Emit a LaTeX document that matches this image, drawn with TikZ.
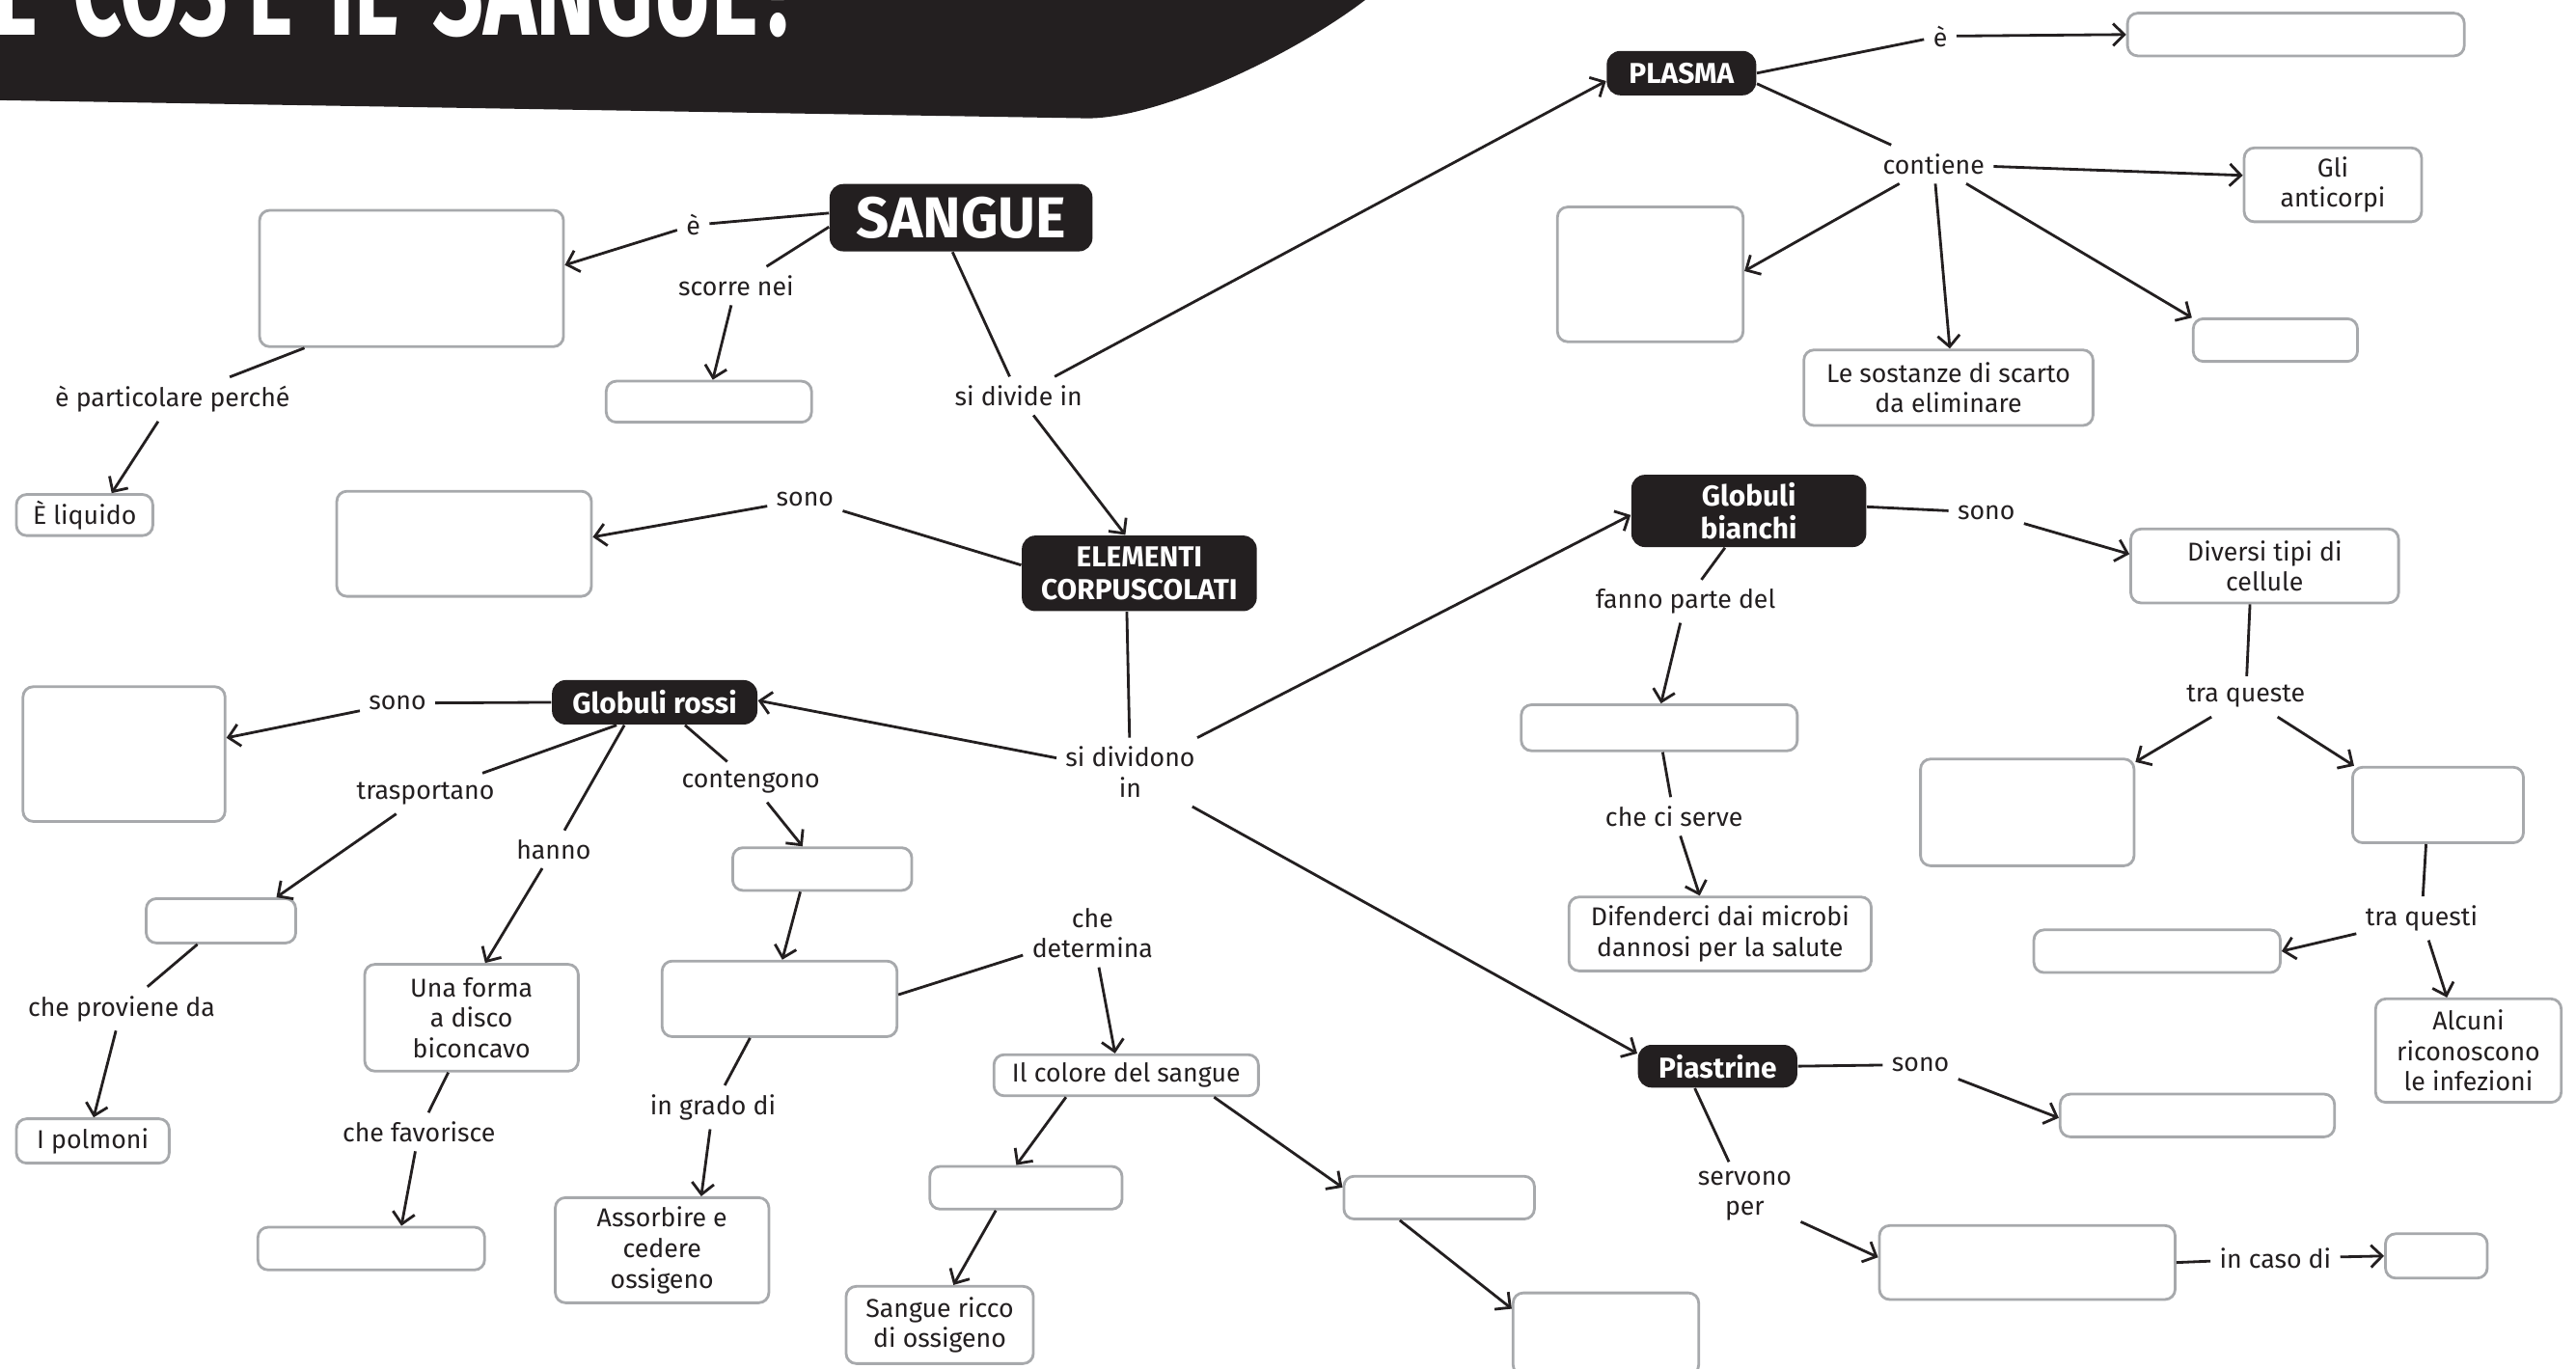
\documentclass[tikz,border=0pt]{standalone}
\usepackage{fontspec}
\setmainfont{Fira Sans}
\usetikzlibrary{arrows.meta}
\definecolor{ink}{HTML}{231F20}
\definecolor{boxgray}{HTML}{A7A9AC}
\begin{document}
\begin{tikzpicture}[x=0.017028cm,y=-0.017028cm,
  dk/.style 2 args={fill=ink, text=white, font=\bfseries\fontsize{8.5}{9.6}\selectfont, rounded corners=4pt, inner sep=0pt, align=center, minimum width=#1*0.017028cm, minimum height=#2*0.017028cm},
  wb/.style 2 args={draw=boxgray, line width=0.8pt, fill=white, rounded corners=3pt, minimum width=#1*0.017028cm, minimum height=#2*0.017028cm, inner sep=0pt, align=center, text=ink, font=\fontsize{7.6}{9}\selectfont},
  lb/.style={text=ink, font=\fontsize{7.6}{9}\selectfont, inner sep=2.5pt, align=center},
  ln/.style={draw=ink, line width=0.8pt},
  ar/.style={ln, -{Straight Barb[length=3.3pt,width=6.5pt]}},
  ttl/.style={anchor=base west, inner sep=0pt, text=white, font=\bfseries\fontsize{40}{40}\selectfont},
]
\useasboundingbox (0,0) rectangle (1568,833.3);
\clip (0,0) rectangle (1568,833.3);
% banner
\fill[ink] (0,0) -- (831,0) .. controls (785,35) and (705,72) .. (662,72) -- (0,61) -- cycle;
\node[ttl] (t1) at (-4,21.5) {\scalebox{0.62}[1]{E}};
\node[ttl] (t2) at (44,21.5) {\scalebox{0.63}[1]{COS’È}};
\node[ttl] (t3) at (200,21.5) {\scalebox{0.63}[1]{IL}};
\node[ttl] (t4) at (263,21.5) {\scalebox{0.66}[1]{SANGUE?}};

% dark nodes
\node[dk={160}{41}, font=\bfseries\fontsize{17}{18}\selectfont] (sangue) at (585,132.5) {SANGUE};
\node[dk={91}{27}] (plasma) at (1023.5,44.5) {PLASMA};
\node[dk={143}{46}] (elem) at (693.5,349) {ELEMENTI\\CORPUSCOLATI};
\node[dk={125}{27}] (gr) at (398.5,427.5) {Globuli rossi};
\node[dk={143}{44}] (gb) at (1064.5,311) {Globuli\\bianchi};
\node[dk={97}{26}] (pia) at (1045.5,649) {Piastrine};

% white boxes left
\node[wb={185}{83}] (b1) at (250.5,169.5) {};
\node[wb={125}{25}] (b2) at (431.5,244.5) {};
\node[wb={83}{25}] (eliq) at (51.5,313.5) {È liquido};
\node[wb={155}{64}] (b3) at (282.5,331) {};
\node[wb={123}{82}] (b4) at (75.5,459) {};
\node[wb={91}{27}] (b5) at (134.5,560.5) {};
\node[wb={93}{27}] (ip) at (56.5,694.5) {I polmoni};
\node[wb={130}{65}] (uf) at (287,619.5) {Una forma\\a disco\\biconcavo};
\node[wb={138}{26}] (b6) at (226,760) {};
\node[wb={109}{26}] (b7) at (500.5,529) {};
\node[wb={143}{46}] (b8) at (474.5,608) {};
\node[wb={130}{64}] (ac) at (403,761) {Assorbire e\\cedere\\ossigeno};
\node[wb={161}{25}] (ics) at (685.5,654.5) {Il colore del sangue};
\node[wb={117}{26}] (b9) at (624.5,723) {};
\node[wb={114}{47}] (sr) at (572,806.5) {Sangue ricco\\di ossigeno};
\node[wb={116}{26}] (b10) at (876,729) {};
\node[wb={113}{50}] (b11) at (977.5,812) {};
% white boxes right
\node[wb={205}{26}] (b12) at (1397.5,21) {};
\node[wb={108}{45}] (ga) at (1420,112.5) {Gli\\anticorpi};
\node[wb={113}{82}] (b13) at (1004.5,167) {};
\node[wb={176}{46}] (ls) at (1186,236) {Le sostanze di scarto\\da eliminare};
\node[wb={100}{26}] (b14) at (1385,207) {};
\node[wb={163}{45}] (dt) at (1378.5,344.5) {Diversi tipi di\\cellule};
\node[wb={168}{28}] (b15) at (1010,443) {};
\node[wb={184}{45}] (dm) at (1047,568.5) {Difenderci dai microbi\\dannosi per la salute};
\node[wb={130}{65}] (b16) at (1234,494.5) {};
\node[wb={104}{46}] (b17) at (1484,490) {};
\node[wb={150}{26}] (b18) at (1313,579) {};
\node[wb={113}{63}] (alc) at (1502.5,639.5) {Alcuni\\riconoscono\\le infezioni};
\node[wb={167}{26}] (b19) at (1337.5,679) {};
\node[wb={180}{45}] (b20) at (1234,768.5) {};
\node[wb={62}{27}] (b21) at (1483,764.5) {};

% labels
\node[lb] (le1) at (422,137) {è};
\node[lb] (lscorre) at (448,174) {scorre nei};
\node[lb] (ldivide) at (620,241) {si divide in};
\node[lb] (lpart) at (105,243) {è particolare perché};
\node[lb] (lsono1) at (490,304) {sono};
\node[lb] (lsidiv) at (688,470) {si dividono\\in};
\node[lb] (lsono2) at (242,428) {sono};
\node[lb] (ltrasp) at (259,483) {trasportano};
\node[lb] (lhanno) at (337,517) {hanno};
\node[lb] (lcont) at (457,476) {contengono};
\node[lb] (lprov) at (74,614) {che proviene da};
\node[lb] (lfav) at (255,689) {che favorisce};
\node[lb] (lgrado) at (434,674) {in grado di};
\node[lb] (ldet) at (665,568) {che\\determina};
\node[lb] (le2) at (1181,22) {è};
\node[lb] (lcontiene) at (1177,100) {contiene};
\node[lb] (lsono3) at (1209,312) {sono};
\node[lb] (lfanno) at (1026,366) {fanno parte del};
\node[lb] (lserve) at (1019,497) {che ci serve};
\node[lb] (lqueste) at (1367,424) {tra queste};
\node[lb] (lquesti) at (1474,559) {tra questi};
\node[lb] (lsono4) at (1169,648) {sono};
\node[lb] (lservono) at (1062,728) {servono\\per};
\node[lb] (lcaso) at (1385,766) {in caso di};

% connectors: SANGUE
\draw[ln] (sangue.178) -- (le1);
\draw[ar] (le1) -- (b1.5);
\draw[ln] (sangue.184) -- (lscorre);
\draw[ar] (lscorre) -- (b2.80);
\draw[ln] (sangue.256) -- (ldivide);
\draw[ar] (ldivide) -- (elem.110);
\draw[ar] (ldivide) -- (plasma.186);
\draw[ln] (b1.213) -- (lpart);
\draw[ar] (lpart) -- (eliq.39);
% ELEMENTI
\draw[ln] (elem.176) -- (lsono1);
\draw[ar] (lsono1) -- (b3.3);
\draw[ln] (elem.252) -- (lsidiv);
\draw[ar] (lsidiv) -- (gr.1);
\draw[ar] (lsidiv) -- (gb.182);
\draw[ar] (lsidiv) -- (pia.171);
% Globuli rossi
\draw[ln] (gr.west) -- (lsono2);
\draw[ar] (lsono2) -- (b4.9);
\draw[ln] (gr.211) -- (ltrasp);
\draw[ar] (ltrasp) -- (b5.23);
\draw[ln] (gr.217) -- (lhanno);
\draw[ar] (lhanno) -- (uf.76);
\draw[ln] (gr.323) -- (lcont);
\draw[ar] (lcont) -- (b7.131);
\draw[ln] (b5.225) -- (lprov);
\draw[ar] (lprov) -- (ip.88);
\draw[ar] (b7.226) -- (b8.86);
\draw[ln] (b8.233) -- (lgrado);
\draw[ar] (lgrado) -- (ac.54);
\draw[ln] (uf.247) -- (lfav);
\draw[ar] (lfav) -- (b6.37);
\draw[ln] (b8.2) -- (ldet);
\draw[ar] (ldet) -- (ics.117);
\draw[ar] (ics.200) -- (b9.113);
\draw[ar] (ics.346) -- (b10.174);
\draw[ar] (b9.217) -- (sr.71);
\draw[ar] (b10.210) -- (b11.165);
% PLASMA
\draw[ln] (plasma.east) -- (le2);
\draw[ar] (le2) -- (b12.west);
\draw[ln] (plasma.352) -- (lcontiene);
\draw[ar] (lcontiene) -- (ga.174);
\draw[ar] (lcontiene) -- (b13.2);
\draw[ar] (lcontiene) -- (ls.88);
\draw[ar] (lcontiene) -- (b14.165);
% Globuli bianchi
\draw[ln] (gb.2) -- (lsono3);
\draw[ar] (lsono3) -- (dt.175);
\draw[ln] (gb.237) -- (lfanno);
\draw[ar] (lfanno) -- (b15.86);
\draw[ln] (b15.278) -- (lserve);
\draw[ar] (lserve) -- (dm.118);
\draw[ln] (dt.249) -- (lqueste);
\draw[ar] (lqueste) -- (b16.25);
\draw[ar] (lqueste) -- (b17.155);
\draw[ln] (b17.253) -- (lquesti);
\draw[ar] (lquesti) -- (b18.east);
\draw[ar] (lquesti) -- (alc.112);
% Piastrine
\draw[ln] (pia.east) -- (lsono4);
\draw[ar] (lsono4) -- (b19.181);
\draw[ln] (pia.224) -- (lservono);
\draw[ar] (lservono) -- (b20.178);
\draw[ln] (b20.east) -- (lcaso);
\draw[ar] (lcaso) -- (b21.west);
\end{tikzpicture}
\end{document}
